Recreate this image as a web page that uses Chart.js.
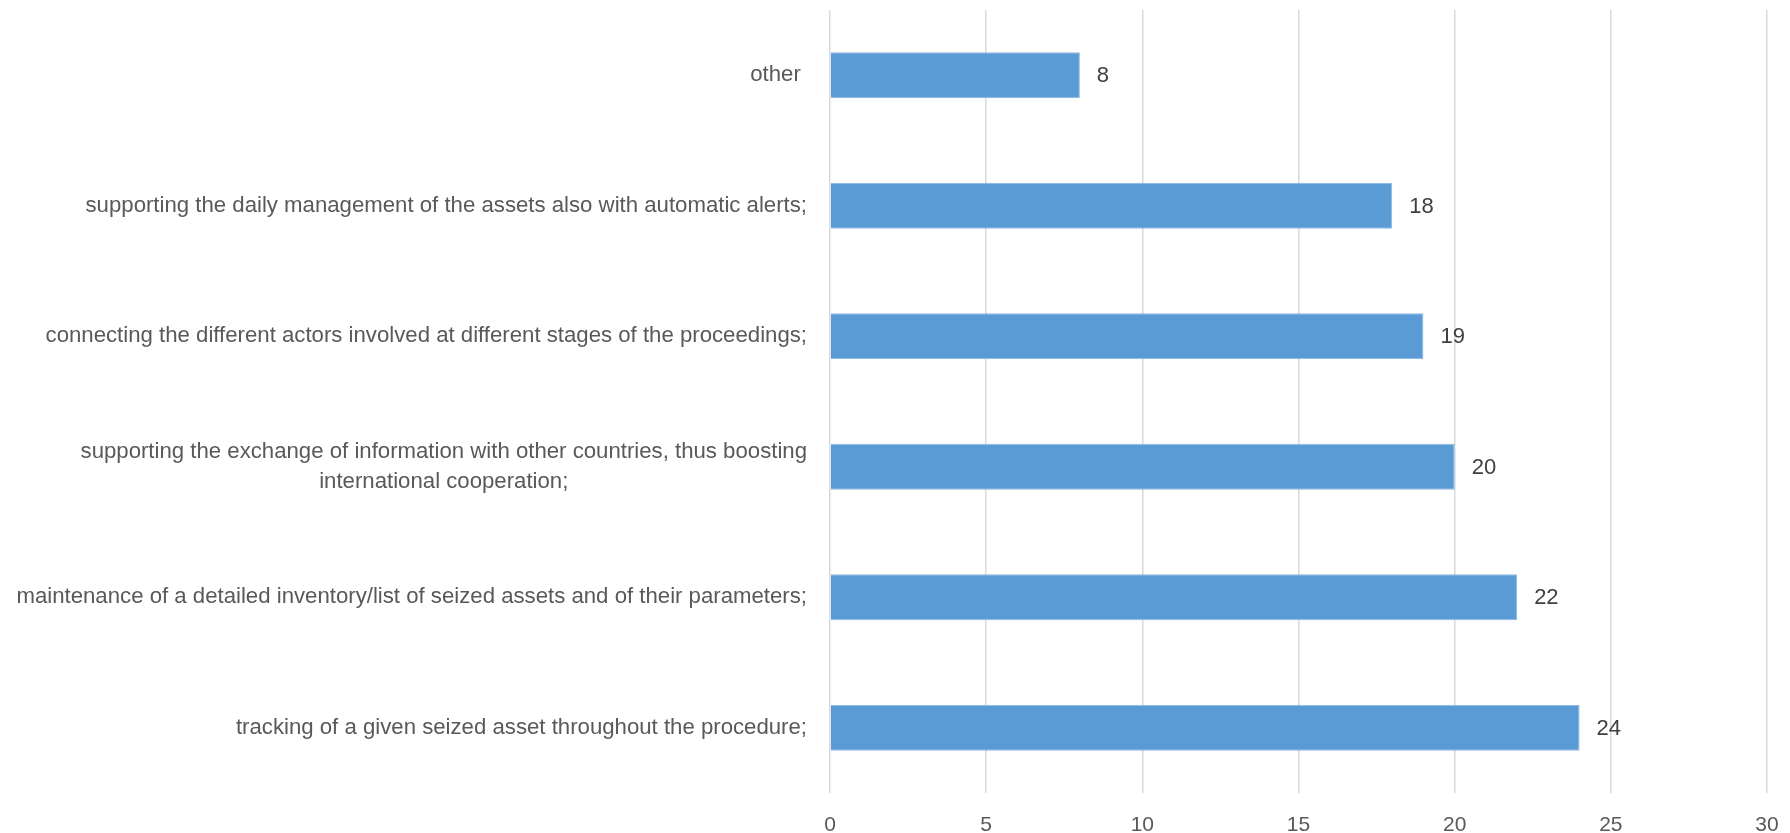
<!DOCTYPE html>
<html>
<head>
<meta charset="utf-8">
<script src="https://cdn.jsdelivr.net/npm/chart.js@4"></script>
<style>
  html, body { margin: 0; padding: 0; background: #ffffff; }
  #wrap { width: 1790px; height: 833px; }
</style>
</head>
<body>
<div id="wrap"><canvas id="chart" width="1790" height="833"></canvas></div>
<script>
// ── Data ─────────────────────────────────────
const categories = [
    ['other '],
    ['supporting the daily management of the assets also with automatic alerts;'],
    ['connecting the different actors involved at different stages of the proceedings;'],
    ['supporting the exchange of information with other countries, thus boosting', 'international cooperation;'],
    ['maintenance of a detailed inventory/list of seized assets and of their parameters;'],
    ['tracking of a given seized asset throughout the procedure;']
];
const values = [8, 18, 19, 20, 22, 24];
const xTicks = [0, 5, 10, 15, 20, 25, 30];

const FONT = "'Liberation Sans', Arial, sans-serif";

// ── Category labels: lines centred on each other, block right-aligned to the axis
const categoryLabels = {
    id: 'categoryLabels',
    afterDraw(chart) {
        const c = chart.ctx;
        const y = chart.scales.y;
        const right = chart.chartArea.left - 23;
        const lh = 30;
        c.save();
        c.font = '22.2px ' + FONT;
        c.fillStyle = '#595959';
        c.textAlign = 'center';
        c.textBaseline = 'middle';
        categories.forEach((lines, i) => {
            const mid = y.getPixelForTick(i);
            const w = Math.max(...lines.map(l => c.measureText(l).width));
            const cx = right - w / 2;
            const top = mid - (lines.length - 1) * lh / 2;
            lines.forEach((l, k) => c.fillText(l, cx, top + k * lh));
        });
        c.restore();
    }
};

// ── Value labels at bar ends
const valueLabels = {
    id: 'valueLabels',
    afterDatasetsDraw(chart) {
        const c = chart.ctx;
        const meta = chart.getDatasetMeta(0);
        c.save();
        c.font = '22px ' + FONT;
        c.fillStyle = '#404040';
        c.textAlign = 'left';
        c.textBaseline = 'middle';
        meta.data.forEach((bar, i) => {
            c.fillText(String(values[i]), bar.x + 17, bar.y + 1);
        });
        c.restore();
    }
};

const ctx = document.getElementById('chart').getContext('2d');

new Chart(ctx, {
    type: 'bar',
    data: {
        labels: categories.map(l => l.join(' ')),
        datasets: [{
            data: values,
            backgroundColor: '#5b9bd5',
            borderColor: '#8ab8e3',
            borderWidth: 1,
            categoryPercentage: 1,
            barPercentage: 0.352
        }]
    },
    options: {
        indexAxis: 'y',
        responsive: false,
        animation: false,
        layout: { padding: { top: 10, right: 23, left: 0, bottom: 0 } },
        plugins: {
            legend: { display: false },
            tooltip: { enabled: false }
        },
        scales: {
            x: {
                min: 0,
                max: 30,
                afterBuildTicks: scale => { scale.ticks = xTicks.map(v => ({ value: v })); },
                afterFit: scale => {
                    scale.height = 40;
                    scale.paddingLeft = 0;
                    scale.paddingRight = 0;
                },
                border: { display: false },
                grid: { color: '#d9d9d9', lineWidth: 1.5, drawTicks: false },
                ticks: {
                    color: '#595959',
                    font: { family: FONT, size: 21 },
                    padding: 20
                }
            },
            y: {
                afterFit: scale => { scale.width = 830; },
                border: { display: false },
                grid: { display: false },
                ticks: { display: false }
            }
        }
    },
    plugins: [categoryLabels, valueLabels]
});
</script>
</body>
</html>
